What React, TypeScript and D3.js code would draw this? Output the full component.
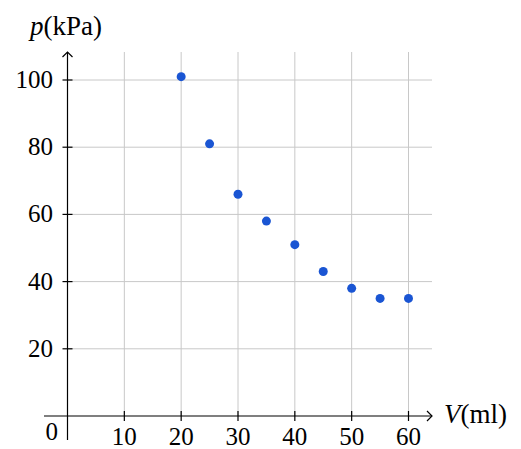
import React, { useEffect, useRef } from "react";
import * as d3 from "d3";

const volume = [20, 25, 30, 35, 40, 45, 50, 55, 60];
const pressure = [101, 81, 66, 58, 51, 43, 38, 35, 35];
const xTicks = [10, 20, 30, 40, 50, 60];
const yTicks = [20, 40, 60, 80, 100];

const App = () => {
  const svgRef = useRef<SVGSVGElement>(null);

  useEffect(() => {
    const width = 521;
    const height = 449;
    const font = "'Liberation Serif', serif";

    const svg = d3.select(svgRef.current);
    svg.selectAll("*").remove();
    svg.attr("width", width).attr("height", height);

    const x = d3.scaleLinear().domain([0, 60]).range([67.5, 408.5]);
    const y = d3.scaleLinear().domain([0, 100]).range([416, 80]);

    const xMin = 44, xMax = 432, yTop = 52, yBottom = 440;

    // grid
    svg
      .selectAll(".gx")
      .data(xTicks)
      .enter()
      .append("line")
      .attr("x1", (d) => x(d))
      .attr("x2", (d) => x(d))
      .attr("y1", yTop)
      .attr("y2", y(0))
      .attr("stroke", "#c8c8c8")
      .attr("stroke-width", 1);

    svg
      .selectAll(".gy")
      .data(yTicks)
      .enter()
      .append("line")
      .attr("x1", x(0))
      .attr("x2", xMax)
      .attr("y1", (d) => y(d))
      .attr("y2", (d) => y(d))
      .attr("stroke", "#c8c8c8")
      .attr("stroke-width", 1);

    // axes
    svg
      .append("line")
      .attr("x1", xMin)
      .attr("x2", xMax)
      .attr("y1", y(0))
      .attr("y2", y(0))
      .attr("stroke", "#000")
      .attr("stroke-width", 1.2);
    svg
      .append("path")
      .attr("d", `M${xMax - 5},${y(0) - 5} L${xMax},${y(0)} L${xMax - 5},${y(0) + 5}`)
      .attr("fill", "none")
      .attr("stroke", "#000")
      .attr("stroke-width", 1.2);

    svg
      .append("line")
      .attr("x1", x(0))
      .attr("x2", x(0))
      .attr("y1", yBottom)
      .attr("y2", yTop)
      .attr("stroke", "#000")
      .attr("stroke-width", 1.2);
    svg
      .append("path")
      .attr("d", `M${x(0) - 5},${yTop + 5} L${x(0)},${yTop} L${x(0) + 5},${yTop + 5}`)
      .attr("fill", "none")
      .attr("stroke", "#000")
      .attr("stroke-width", 1.2);

    // ticks
    svg
      .selectAll(".tx")
      .data(xTicks)
      .enter()
      .append("line")
      .attr("x1", (d) => x(d))
      .attr("x2", (d) => x(d))
      .attr("y1", y(0) - 5)
      .attr("y2", y(0) + 5)
      .attr("stroke", "#000")
      .attr("stroke-width", 1.2);
    svg
      .selectAll(".ty")
      .data(yTicks)
      .enter()
      .append("line")
      .attr("x1", x(0) - 5)
      .attr("x2", x(0) + 5)
      .attr("y1", (d) => y(d))
      .attr("y2", (d) => y(d))
      .attr("stroke", "#000")
      .attr("stroke-width", 1.2);

    // tick labels
    svg
      .selectAll(".lx")
      .data(xTicks)
      .enter()
      .append("text")
      .attr("x", (d) => x(d))
      .attr("y", 445)
      .attr("text-anchor", "middle")
      .attr("font-family", font)
      .attr("font-size", 25)
      .text((d) => d);
    svg
      .selectAll(".ly")
      .data(yTicks)
      .enter()
      .append("text")
      .attr("x", 53)
      .attr("y", (d) => y(d) + 8)
      .attr("text-anchor", "end")
      .attr("font-family", font)
      .attr("font-size", 25)
      .text((d) => d);
    svg
      .append("text")
      .attr("x", 58)
      .attr("y", 440)
      .attr("text-anchor", "end")
      .attr("font-family", font)
      .attr("font-size", 25)
      .text("0");

    // axis titles
    const yt = svg
      .append("text")
      .attr("x", 30)
      .attr("y", 35)
      .attr("font-family", font)
      .attr("font-size", 27);
    yt.append("tspan").attr("font-style", "italic").text("p");
    yt.append("tspan").text("(kPa)");

    const xt = svg
      .append("text")
      .attr("x", 444)
      .attr("y", 423)
      .attr("font-family", font)
      .attr("font-size", 27);
    xt.append("tspan").attr("font-style", "italic").text("V");
    xt.append("tspan").text("(ml)");

    // points
    svg
      .selectAll(".pt")
      .data(volume)
      .enter()
      .append("circle")
      .attr("cx", (d) => x(d))
      .attr("cy", (d, i) => y(pressure[i]))
      .attr("r", 4.5)
      .attr("fill", "#1a55d3");
  }, []);

  return <svg ref={svgRef} style={{ position: "absolute", left: 0, top: 0 }}></svg>;
};

export default App;
